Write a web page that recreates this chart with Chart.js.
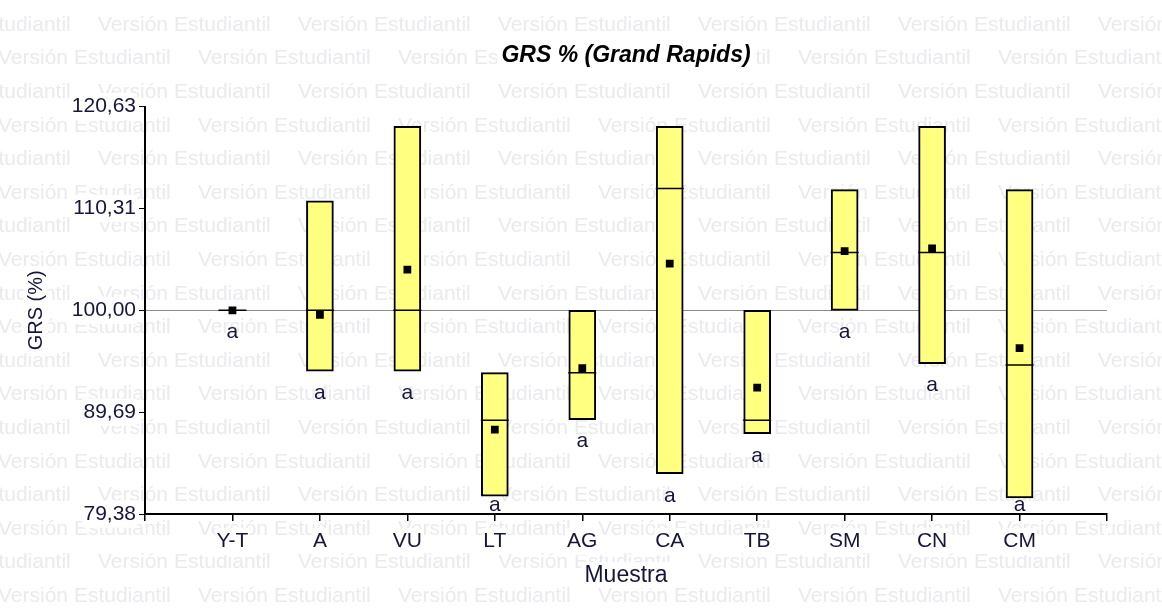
<!DOCTYPE html>
<html>
<head>
<meta charset="utf-8">
<script src="https://cdn.jsdelivr.net/npm/chart.js@4.4.1/dist/chart.umd.min.js"></script>
<style>
	html, body { margin: 0; padding: 0; background: #fff; }
	#wrap { width: 1162px; height: 611px; position: relative; }
</style>
</head>
<body>
<div id="wrap"><canvas id="grsChart"></canvas></div>
<script>
// Muestras (x categories)
const categories = ['Y-T', 'A', 'VU', 'LT', 'AG', 'CA', 'TB', 'SM', 'CN', 'CM'];
// GRS (%) per sample: box from min to max, median line and mean point
const minValues = [100.00, 93.85, 93.85, 81.19, 88.93, 83.46, 87.51, 100.00, 94.60, 81.00];
const maxValues = [100.00, 111.10, 118.64, 93.69, 100.00, 118.64, 100.00, 112.23, 118.64, 112.23];
const medianValues = [100.00, 100.00, 100.00, 88.86, 93.69, 112.33, 88.86, 105.87, 105.87, 94.47];
const meanValues = [100.00, 99.55, 104.12, 87.92, 94.16, 104.73, 92.17, 106.00, 106.28, 96.17];
// Letters from the comparison test
const letters = ['a', 'a', 'a', 'a', 'a', 'a', 'a', 'a', 'a', 'a'];
// Y axis tick labels
const yTicks = [79.38, 89.69, 100.00, 110.31, 120.63];

const FONT = '"Liberation Sans", Arial, sans-serif';
const TEXT_COLOR = '#16163a';

// "Versión Estudiantil" background text, with white boxes behind titles
const watermark = {
	id: 'watermark',
	beforeDraw(chart) {
		const ctx = chart.ctx;
		const area = chart.chartArea;
		ctx.save();
		ctx.fillStyle = '#fff';
		ctx.fillRect(0, 0, chart.width, chart.height);
		ctx.font = '21px ' + FONT;
		ctx.fillStyle = '#eaeaef';
		ctx.textBaseline = 'middle';
		for (let row = 0; row < 19; row++) {
			const y = 25 + row * 33.6;
			const start = row % 2 === 0 ? 98 : -2;
			for (let x = start - 200; x < chart.width; x += 200) {
				ctx.fillText('Versión Estudiantil', x, y);
			}
		}
		ctx.fillStyle = '#fff';
		const cx = (area.left + area.right) / 2;
		// title
		const t = chart.options.plugins.title;
		ctx.font = 'italic bold ' + t.font.size + 'px ' + FONT;
		let w = ctx.measureText(t.text).width;
		let ty = chart.titleBlock.top + t.padding.top + t.font.size * 0.6;
		ctx.fillRect(cx - w / 2 - 4, ty - 13, w + 8, 26);
		// x title
		const xt = chart.options.scales.x.title;
		ctx.font = xt.font.size + 'px ' + FONT;
		w = ctx.measureText(xt.text).width;
		ty = chart.scales.x.bottom - xt.padding.bottom - xt.font.size * 0.6;
		ctx.fillRect(cx - w / 2 - 3, ty - 13, w + 6, 26);
		// y title
		const yt = chart.options.scales.y.title;
		ctx.font = yt.font.size + 'px ' + FONT;
		w = ctx.measureText(yt.text).width;
		const tx = chart.scales.y.left + yt.padding.top + yt.font.size * 0.6;
		const cy = (area.top + area.bottom) / 2;
		ctx.fillRect(tx - 12, cy - w / 2 - 3, 24, w + 6);
		ctx.restore();
	}
};

// letters under each box
const letterLabels = {
	id: 'letterLabels',
	afterDatasetsDraw(chart) {
		const {ctx, chartArea} = chart;
		const xs = chart.scales.x, ys = chart.scales.y;
		ctx.save();
		ctx.font = '21px ' + FONT;
		ctx.fillStyle = TEXT_COLOR;
		ctx.textAlign = 'center';
		ctx.textBaseline = 'middle';
		letters.forEach((txt, i) => {
			const py = Math.min(ys.getPixelForValue(minValues[i]) + 22, chartArea.bottom - 9);
			ctx.fillText(txt, xs.getPixelForValue(i + 1), py);
		});
		ctx.restore();
	}
};

const ctx = document.getElementById('grsChart').getContext('2d');
window.myChart = new Chart(ctx, {
	type: 'bar',
	data: {
		datasets: [
			{
				type: 'line',
				label: 'Media',
				data: categories.map((c, i) => ({ x: i + 1, y: meanValues[i] })),
				showLine: false,
				pointStyle: 'rect',
				pointRadius: 5.5,
				pointBackgroundColor: '#000',
				pointBorderColor: '#000',
				pointBorderWidth: 0,
				order: 1
			},
			{
				type: 'line',
				label: 'Mediana',
				data: categories.map((c, i) => ({ x: i + 1, y: medianValues[i] })),
				showLine: false,
				pointStyle: 'line',
				pointRadius: 14,
				pointBorderColor: '#000',
				pointBorderWidth: 1.5,
				order: 2
			},
			{
				label: 'Rango',
				data: categories.map((c, i) => ({ x: i + 1, y: [minValues[i], maxValues[i]] })),
				backgroundColor: '#ffff80',
				borderColor: '#000',
				borderWidth: 2,
				borderSkipped: false,
				barThickness: 27,
				order: 3
			}
		]
	},
	options: {
		responsive: true,
		maintainAspectRatio: false,
		animation: false,
		layout: { padding: { left: 0, right: 55, top: 0, bottom: 0 } },
		scales: {
			x: {
				type: 'linear',
				min: 0,
				max: categories.length + 1,
				offset: false,
				afterBuildTicks: scale => {
					scale.ticks = Array.from({ length: categories.length + 2 }, (v, i) => ({ value: i }));
				},
				afterFit: scale => { scale.height = 97; },
				ticks: {
					autoSkip: false,
					maxRotation: 0,
					padding: 8,
					color: TEXT_COLOR,
					font: { family: FONT, size: 21 },
					showLabelBackdrop: true,
					backdropColor: '#fff',
					backdropPadding: 1,
					callback: v => categories[v - 1] || ''
				},
				grid: { offset: false, drawOnChartArea: false, tickLength: 7, color: '#000', lineWidth: 1.5 },
				border: { color: '#000', width: 2 },
				title: {
					display: true,
					text: 'Muestra',
					color: TEXT_COLOR,
					font: { family: FONT, size: 23 },
					padding: { top: 0, bottom: 22 }
				}
			},
			y: {
				type: 'linear',
				min: yTicks[0],
				max: yTicks[yTicks.length - 1],
				afterBuildTicks: scale => {
					scale.ticks = yTicks.map(v => ({ value: v }));
				},
				afterFit: scale => { scale.width = 145; },
				ticks: {
					padding: 3,
					color: TEXT_COLOR,
					font: { family: FONT, size: 21 },
					showLabelBackdrop: true,
					backdropColor: '#fff',
					backdropPadding: 1,
					callback: v => v.toFixed(2).replace('.', ',')
				},
				grid: {
					color: c => (c.tick && c.tick.value === 100 ? '#8c8c8c' : 'rgba(0,0,0,0)'),
					tickColor: '#000',
					tickLength: 6,
					lineWidth: 1
				},
				border: { color: '#000', width: 2 },
				title: {
					display: true,
					text: 'GRS (%)',
					color: TEXT_COLOR,
					font: { family: FONT, size: 20 },
					padding: { top: 24, bottom: 0 }
				}
			}
		},
		plugins: {
			legend: { display: false },
			tooltip: { enabled: false },
			title: {
				display: true,
				fullSize: false,
				text: 'GRS % (Grand Rapids)',
				color: '#000',
				font: { family: FONT, size: 23, weight: 'bold', style: 'italic' },
				padding: { top: 42, bottom: 37 }
			}
		}
	},
	plugins: [watermark, letterLabels]
});
</script>
</body>
</html>
